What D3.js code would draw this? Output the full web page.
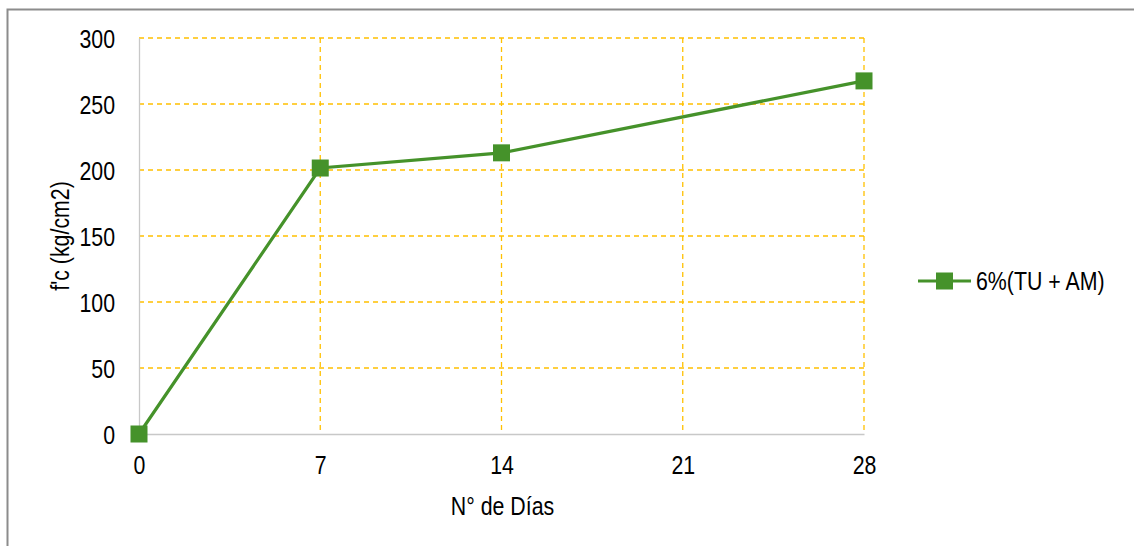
<!DOCTYPE html>
<html>
<head>
<meta charset="utf-8">
<script src="https://cdn.jsdelivr.net/npm/d3@7"></script>
<style>
  body { margin: 0; background: #fff; }
  svg text { font-family: "Liberation Sans Narrow", "Arial Narrow", "Liberation Sans", sans-serif; fill: #000; }
</style>
</head>
<body>
<div id="chart"></div>
<script>
// data
const dias = [0, 7, 14, 28];
const fc = [0, 201.5, 213, 267.5];
const xTicks = [0, 7, 14, 21, 28];
const yTicks = [0, 50, 100, 150, 200, 250, 300];
const serieName = "6%(TU + AM)";

const width = 1134, height = 546;
const margin = {top: 38, right: 270, bottom: 112, left: 139};
const innerWidth = width - margin.left - margin.right;
const innerHeight = height - margin.top - margin.bottom;

const green = "#45922a";
const gridColor = "#ffc000";
const fontSize = 26;

// squeeze text horizontally to look like Arial Narrow
function narrow(sel) {
  sel.each(function() {
    const l = this.getComputedTextLength();
    d3.select(this).attr("textLength", l * 0.82).attr("lengthAdjust", "spacingAndGlyphs");
  });
}

const svg = d3.select("#chart").append("svg")
  .attr("width", width)
  .attr("height", height);

// outer frame
svg.append("rect")
  .attr("x", 7.5).attr("y", 9.5)
  .attr("width", width + 10).attr("height", height + 10)
  .attr("fill", "none").attr("stroke", "#8c8c8c").attr("stroke-width", 2);

const g = svg.append("g").attr("transform", `translate(${margin.left},${margin.top})`);

// scales
const xScale = d3.scaleLinear().domain([0, 28]).range([0, innerWidth]);
const yScale = d3.scaleLinear().domain([0, 300]).range([innerHeight, 0]);

// grid
g.selectAll(".hgrid").data(yTicks.filter(d => d > 0)).enter().append("line")
  .attr("x1", 0).attr("x2", innerWidth)
  .attr("y1", d => yScale(d)).attr("y2", d => yScale(d))
  .attr("stroke", gridColor).attr("stroke-width", 1.3).attr("stroke-dasharray", "5,4");
g.selectAll(".vgrid").data(xTicks.filter(d => d > 0)).enter().append("line")
  .attr("x1", d => xScale(d)).attr("x2", d => xScale(d))
  .attr("y1", 0).attr("y2", innerHeight)
  .attr("stroke", gridColor).attr("stroke-width", 1.3).attr("stroke-dasharray", "5,4");

// axes
const yAxis = g.append("g").call(d3.axisLeft(yScale).tickValues(yTicks).tickSize(0).tickPadding(24));
yAxis.select(".domain").attr("stroke", "#c8c8c8").attr("stroke-width", 1.3);
yAxis.selectAll("text").attr("font-size", fontSize).attr("dy", "0.35em").call(narrow);

const xAxis = g.append("g").attr("transform", `translate(0,${innerHeight})`)
  .call(d3.axisBottom(xScale).tickValues(xTicks).tickSize(0).tickPadding(22));
xAxis.select(".domain").attr("stroke", "#c8c8c8").attr("stroke-width", 1.3);
xAxis.selectAll("text").attr("font-size", fontSize).attr("dy", "0.71em").call(narrow);
g.selectAll(".tick text").attr("fill", "#000");

// axis titles
svg.append("text")
  .attr("transform", `translate(69,${margin.top + innerHeight / 2}) rotate(-90)`)
  .attr("text-anchor", "middle").attr("font-size", fontSize)
  .text("f'c (kg/cm2)").call(narrow);
svg.append("text")
  .attr("x", margin.left + innerWidth / 2 + 1).attr("y", 515)
  .attr("text-anchor", "middle").attr("font-size", fontSize)
  .text("N° de Días").call(narrow);

// line
const pts = dias.map((d, i) => ({x: d, y: fc[i]}));
g.append("path").datum(pts)
  .attr("fill", "none").attr("stroke", green).attr("stroke-width", 3.2)
  .attr("d", d3.line().x(d => xScale(d.x)).y(d => yScale(d.y)));
g.selectAll(".mk").data(pts).enter().append("rect")
  .attr("x", d => xScale(d.x) - 8.5).attr("y", d => yScale(d.y) - 8.5)
  .attr("width", 17).attr("height", 17).attr("fill", green);

// legend
const lg = svg.append("g").attr("transform", "translate(918,281)");
lg.append("line").attr("x1", 0).attr("x2", 53).attr("y1", 0).attr("y2", 0)
  .attr("stroke", green).attr("stroke-width", 3.2);
lg.append("rect").attr("x", 18).attr("y", -8.5).attr("width", 17).attr("height", 17).attr("fill", green);
lg.append("text").attr("x", 58).attr("y", 0).attr("dy", "0.35em").attr("font-size", fontSize)
  .text(serieName).call(narrow);
</script>
</body>
</html>
